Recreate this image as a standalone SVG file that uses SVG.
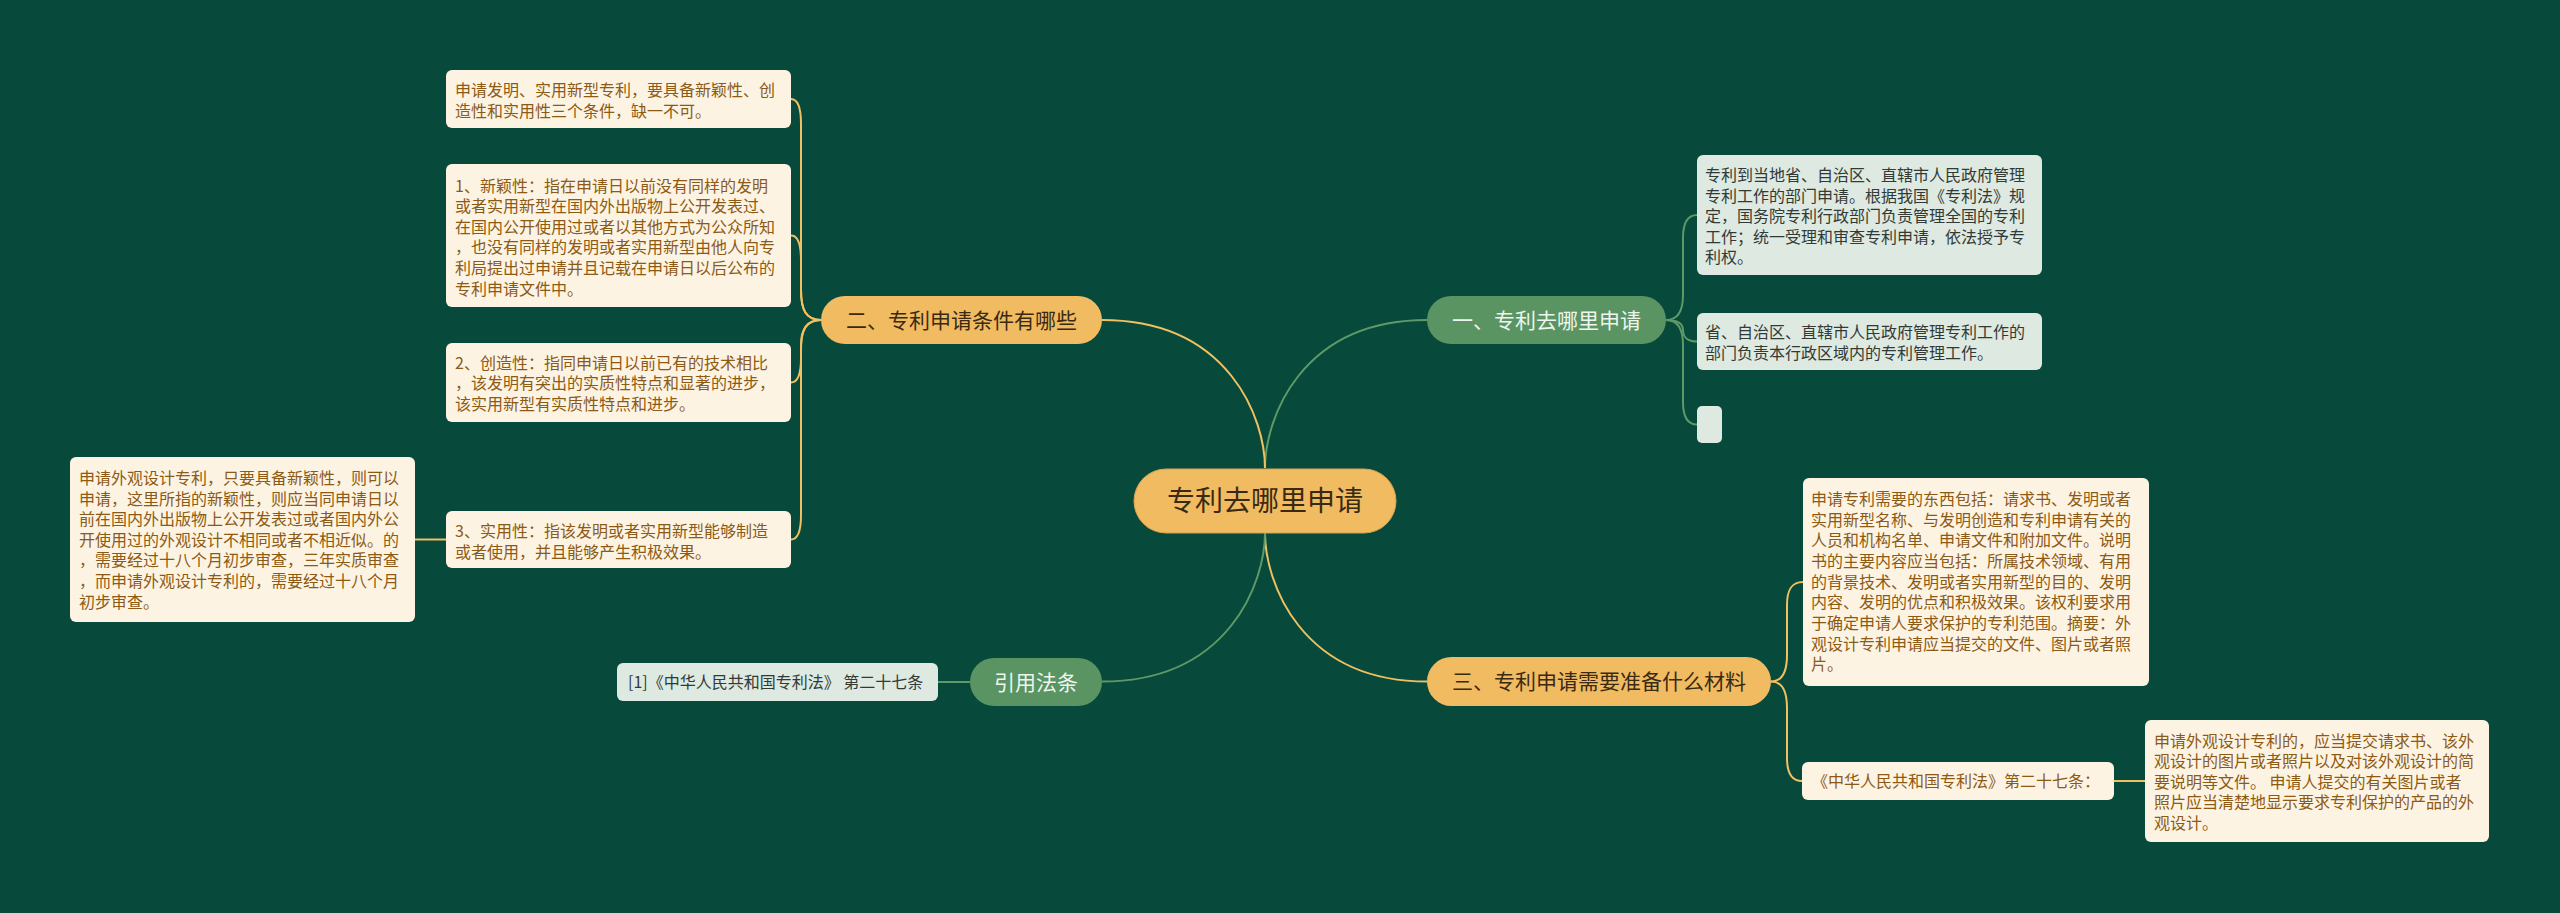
<svg xmlns="http://www.w3.org/2000/svg" width="2560" height="913" viewBox="0 0 2560 913">
<style>
text{font-family:"Noto Sans CJK SC","Microsoft YaHei",sans-serif}
.bg{fill:#07493a}
.cy{fill:none;stroke:#f0c062;stroke-width:2}
.cg{fill:none;stroke:#5e9a68;stroke-width:2}
.ny{fill:#f1bb62}
.ng{fill:#5a9463}
.ly{fill:#fdf3e2}
.lg{fill:#dde9e1}
.ty{font-size:16px;fill:#8c5a14}
.tg{font-size:16px;fill:#333a36}
.tb{font-size:21px;fill:#3a2a12}
.tw{font-size:21px;fill:#eef5ee}
</style>
<rect class="bg" x="0" y="0" width="2560" height="913"/>
<g id="connectors">
<path class="cg" d="M1265,468 C1265,420 1300,320 1427,320"/>
<path class="cy" d="M1265,468 C1265,420 1230,320 1102,320"/>
<path class="cy" d="M1265,533 C1265,581 1300,681.5 1427,681.5"/>
<path class="cg" d="M1265,533 C1265,581 1230,681.5 1102,681.5"/>
<path class="cy" d="M821,320 C806,320 801,310 801,290 L801,124 C801,107 798,99 791,99"/>
<path class="cy" d="M821,320 C806,320 801,310 801,290 L801,260 C801,243 798,235.5 791,235.5"/>
<path class="cy" d="M821,320 C806,320 801,330 801,345 L801,358 C801,375 798,382.5 791,382.5"/>
<path class="cy" d="M821,320 C806,320 801,330 801,350 L801,515 C801,532 798,539.5 791,539.5"/>
<path class="cy" d="M415,539.5 L446,539.5"/>
<path class="cg" d="M938,682 L970,682"/>
<path class="cg" d="M1666,320 C1679,320 1683,310 1683,295 L1683,238 C1683,222 1688,215 1697,215"/>
<path class="cg" d="M1666,320 C1679,320 1683,325 1683,330 C1683,337 1688,341.5 1697,341.5"/>
<path class="cg" d="M1666,320 C1679,320 1683,330 1683,345 L1683,402 C1683,418 1688,424.5 1697,424.5"/>
<path class="cy" d="M1771,681.5 C1783,681.5 1787,670 1787,655 L1787,605 C1787,589 1792,582 1803,582"/>
<path class="cy" d="M1771,681.5 C1783,681.5 1787,693 1787,708 L1787,758 C1787,774 1792,781 1802,781"/>
<path class="cy" d="M2114,781 L2145,781"/>
</g>
<g id="center">
<rect class="ny" x="1134" y="469" width="262" height="64" rx="32" stroke="#d9a24c" stroke-width="1"/>
<text x="1265" y="511" text-anchor="middle" style="font-size:28px;fill:#3a2a12">专利去哪里申请</text>
</g>
<g id="b1">
<rect class="ng" x="1427" y="296" width="239" height="48" rx="24"/>
<text class="tw" x="1546.5" y="327.5" text-anchor="middle">一、专利去哪里申请</text>
</g>
<g id="b2">
<rect class="ny" x="821" y="296" width="281" height="48" rx="24"/>
<text class="tb" x="961.5" y="327.5" text-anchor="middle">二、专利申请条件有哪些</text>
</g>
<g id="b3">
<rect class="ny" x="1427" y="657" width="344" height="49" rx="24.5"/>
<text class="tb" x="1599" y="689" text-anchor="middle">三、专利申请需要准备什么材料</text>
</g>
<g id="b4">
<rect class="ng" x="970" y="658" width="132" height="48" rx="24"/>
<text class="tw" x="1036" y="689.5" text-anchor="middle">引用法条</text>
</g>
<g id="l1">
<rect class="ly" x="446" y="70" width="345" height="58" rx="6"/>
<text class="ty"><tspan x="455" y="96">申请发明、实用新型专利，要具备新颖性、创</tspan><tspan x="455" y="116.6">造性和实用性三个条件，缺一不可。</tspan></text>
</g>
<g id="l2">
<rect class="ly" x="446" y="164" width="345" height="143" rx="6"/>
<text class="ty"><tspan x="455" y="191.5">1、新颖性：指在申请日以前没有同样的发明</tspan><tspan x="455" y="212.1">或者实用新型在国内外出版物上公开发表过、</tspan><tspan x="455" y="232.7">在国内公开使用过或者以其他方式为公众所知</tspan><tspan x="455" y="253.3">，也没有同样的发明或者实用新型由他人向专</tspan><tspan x="455" y="273.9">利局提出过申请并且记载在申请日以后公布的</tspan><tspan x="455" y="294.5">专利申请文件中。</tspan></text>
</g>
<g id="l3">
<rect class="ly" x="446" y="343" width="345" height="79" rx="6"/>
<text class="ty"><tspan x="455" y="368.5">2、创造性：指同申请日以前已有的技术相比</tspan><tspan x="455" y="389.1">，该发明有突出的实质性特点和显著的进步，</tspan><tspan x="455" y="409.7">该实用新型有实质性特点和进步。</tspan></text>
</g>
<g id="l4">
<rect class="ly" x="446" y="511" width="345" height="57" rx="6"/>
<text class="ty"><tspan x="455" y="537">3、实用性：指该发明或者实用新型能够制造</tspan><tspan x="455" y="557.6">或者使用，并且能够产生积极效果。</tspan></text>
</g>
<g id="l5">
<rect class="ly" x="70" y="457" width="345" height="165" rx="6"/>
<text class="ty"><tspan x="79" y="484">申请外观设计专利，只要具备新颖性，则可以</tspan><tspan x="79" y="504.6">申请，这里所指的新颖性，则应当同申请日以</tspan><tspan x="79" y="525.2">前在国内外出版物上公开发表过或者国内外公</tspan><tspan x="79" y="545.8">开使用过的外观设计不相同或者不相近似。的</tspan><tspan x="79" y="566.4">，需要经过十八个月初步审查，三年实质审查</tspan><tspan x="79" y="587">，而申请外观设计专利的，需要经过十八个月</tspan><tspan x="79" y="607.6">初步审查。</tspan></text>
</g>
<g id="ref">
<rect class="lg" x="617" y="663" width="321" height="38" rx="6"/>
<text class="tg" x="628" y="688">[1]《中华人民共和国专利法》 第二十七条</text>
</g>
<g id="r1">
<rect class="lg" x="1697" y="155" width="345" height="120" rx="6"/>
<text class="tg"><tspan x="1705" y="181">专利到当地省、自治区、直辖市人民政府管理</tspan><tspan x="1705" y="201.6">专利工作的部门申请。根据我国《专利法》规</tspan><tspan x="1705" y="222.2">定，国务院专利行政部门负责管理全国的专利</tspan><tspan x="1705" y="242.8">工作；统一受理和审查专利申请，依法授予专</tspan><tspan x="1705" y="263.4">利权。</tspan></text>
</g>
<g id="r2">
<rect class="lg" x="1697" y="313" width="345" height="57" rx="6"/>
<text class="tg"><tspan x="1705" y="338">省、自治区、直辖市人民政府管理专利工作的</tspan><tspan x="1705" y="358.6">部门负责本行政区域内的专利管理工作。</tspan></text>
</g>
<g id="r3">
<rect class="lg" x="1697" y="406" width="25" height="37" rx="5"/>
</g>
<g id="r4">
<rect class="ly" x="1803" y="478" width="346" height="208" rx="6"/>
<text class="ty"><tspan x="1811" y="505">申请专利需要的东西包括：请求书、发明或者</tspan><tspan x="1811" y="525.7">实用新型名称、与发明创造和专利申请有关的</tspan><tspan x="1811" y="546.4">人员和机构名单、申请文件和附加文件。说明</tspan><tspan x="1811" y="567">书的主要内容应当包括：所属技术领域、有用</tspan><tspan x="1811" y="587.7">的背景技术、发明或者实用新型的目的、发明</tspan><tspan x="1811" y="608.4">内容、发明的优点和积极效果。该权利要求用</tspan><tspan x="1811" y="629">于确定申请人要求保护的专利范围。摘要：外</tspan><tspan x="1811" y="649.7">观设计专利申请应当提交的文件、图片或者照</tspan><tspan x="1811" y="670.4">片。</tspan></text>
</g>
<g id="r5">
<rect class="ly" x="1802" y="762" width="312" height="38" rx="6"/>
<text class="ty" x="1812" y="787">《中华人民共和国专利法》第二十七条：</text>
</g>
<g id="r6">
<rect class="ly" x="2145" y="720" width="344" height="122" rx="6"/>
<text class="ty"><tspan x="2154" y="746.5">申请外观设计专利的，应当提交请求书、该外</tspan><tspan x="2154" y="767.1">观设计的图片或者照片以及对该外观设计的简</tspan><tspan x="2154" y="787.7">要说明等文件。 申请人提交的有关图片或者</tspan><tspan x="2154" y="808.3">照片应当清楚地显示要求专利保护的产品的外</tspan><tspan x="2154" y="828.9">观设计。</tspan></text>
</g>
</svg>
